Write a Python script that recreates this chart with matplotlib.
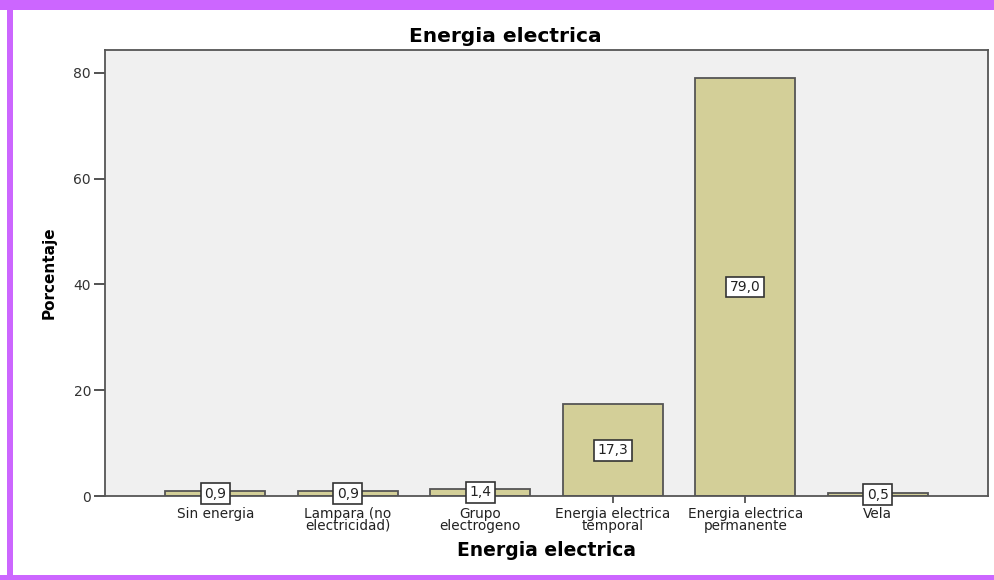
import matplotlib
matplotlib.use('Agg')
import matplotlib.pyplot as plt
from matplotlib.patches import Rectangle

# DejaVu is wider than Liberation, closer to the stretched look of the original
plt.rcParams['font.family'] = ['DejaVu Sans']

categories = ['Sin energia', 'Lampara (no\nelectricidad)', 'Grupo\nelectrogeno',
              'Energia electrica\ntemporal', 'Energia electrica\npermanente', 'Vela']
values = [0.9, 0.9, 1.4, 17.3, 79.0, 0.5]
labels = ['0,9', '0,9', '1,4', '17,3', '79,0', '0,5']
yticks = [0, 20, 40, 60, 80]

W, H = 995, 580
fig = plt.figure(figsize=(W / 100, H / 100), dpi=100)
ax = fig.add_axes([105 / W, 1 - 496 / H, 883 / W, 446 / H])

ax.set_facecolor('#f0f0f0')
x = list(range(len(values)))
ax.bar(x, values, width=0.755, color='#d3cf98', edgecolor='#555555', linewidth=1.3, zorder=2)

for xi, v, lab in zip(x, values, labels):
    ax.text(xi, v / 2, lab, ha='center', va='center', fontsize=10, color='#222222', zorder=3,
            bbox=dict(boxstyle='square,pad=0.25', facecolor='white', edgecolor='#333333', linewidth=1.2))

ax.set_xlim(-0.833, 5.833)
ax.set_ylim(0, 84.3)
ax.set_yticks(yticks)
ax.set_xticks(x)
ax.set_xticklabels(categories, fontsize=9.8, color='#222222', linespacing=0.78)
ax.tick_params(axis='y', length=8, width=1.3, color='#444444', labelsize=10, labelcolor='#333333', pad=2)
ax.tick_params(axis='x', length=5, width=1.2, color='#444444', pad=3)
for s in ax.spines.values():
    s.set_color('#555555')
    s.set_linewidth(1.3)

ax.set_xlabel('Energia electrica', fontsize=13.5, fontweight='bold', labelpad=6)
ax.set_ylabel('Porcentaje', fontsize=11, fontweight='bold', labelpad=12)
fig.text(505 / W, 1 - 36 / H, 'Energia electrica', ha='center', va='center',
         fontsize=14.5, fontweight='bold')

# purple frame around the picture
purple = '#cc66ff'
fig.patches.append(Rectangle((0, 1 - 10 / H), 1, 10 / H, transform=fig.transFigure,
                             facecolor=purple, edgecolor='none'))
fig.patches.append(Rectangle((7 / W, 0), 6 / W, 1, transform=fig.transFigure,
                             facecolor=purple, edgecolor='none'))
fig.patches.append(Rectangle((0, 0), 1, 5 / H, transform=fig.transFigure,
                             facecolor=purple, edgecolor='none'))

fig.savefig('out.png', dpi=100)
